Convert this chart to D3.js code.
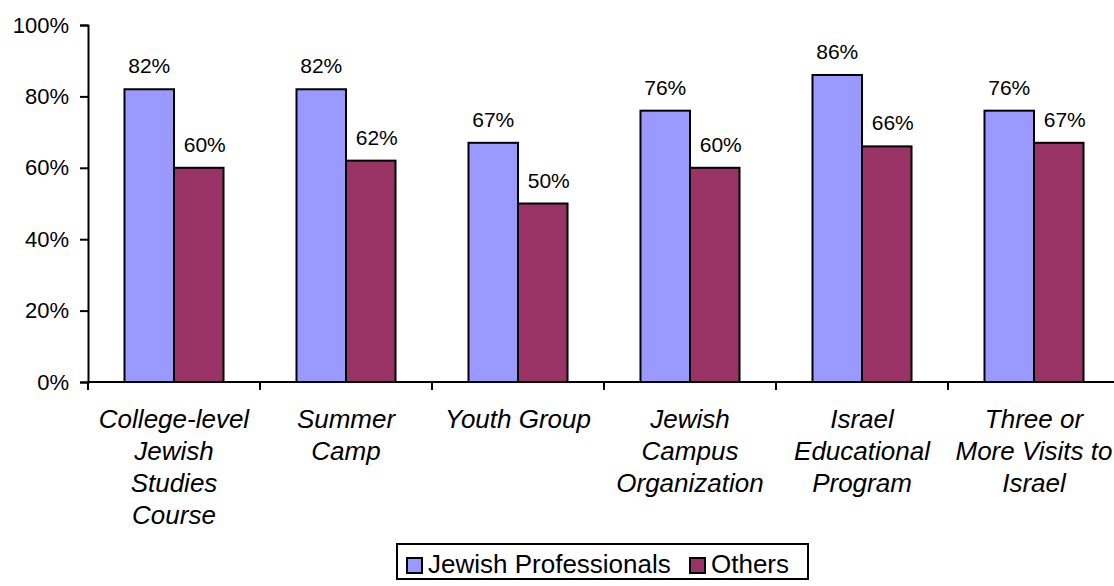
<!DOCTYPE html>
<html>
<head>
<meta charset="utf-8">
<script src="https://cdn.jsdelivr.net/npm/d3@7"></script>
<style>
  body { margin: 0; background: #fff; }
  svg { font-family: "Liberation Sans", Arial, sans-serif; }
</style>
</head>
<body>
<div class="barchart"></div>
<script>
// data
var categories = ["College-level Jewish Studies Course", "Summer Camp", "Youth Group",
                  "Jewish Campus Organization", "Israel Educational Program", "Three or More Visits to Israel"];
var categoryLines = [
  ["College-level", "Jewish", "Studies", "Course"],
  ["Summer", "Camp"],
  ["Youth Group"],
  ["Jewish", "Campus", "Organization"],
  ["Israel", "Educational", "Program"],
  ["Three or", "More Visits to", "Israel"]
];
var seriesNames = ["Jewish Professionals", "Others"];
var professionals = [0.82, 0.82, 0.67, 0.76, 0.86, 0.76];
var others = [0.60, 0.62, 0.50, 0.60, 0.66, 0.67];
var yTicks = [0, 0.2, 0.4, 0.6, 0.8, 1.0];
var colors = ["#9999ff", "#993366"];

var width = 1114, height = 586;

var svg = d3.select(".barchart")
  .append("svg")
  .attr("width", width)
  .attr("height", height);

// scales
var x0 = d3.scaleBand()
  .domain(categories)
  .range([88, 88 + 172 * categories.length])
  .paddingInner(0)
  .paddingOuter(0);

var x1 = d3.scaleBand()
  .domain(seriesNames)
  .range([0, x0.bandwidth()])
  .paddingInner(0)
  .paddingOuter(0.737);

var y = d3.scaleLinear()
  .domain([0, 1])
  .range([382, 25]);

var rows = categories.map(function(c, i) {
  return {cat: c, values: [professionals[i], others[i]]};
});

// bars
var groups = svg.selectAll(".grp")
  .data(rows)
  .enter()
  .append("g")
  .attr("class", "grp")
  .attr("transform", function(d) { return "translate(" + x0(d.cat) + ",0)"; });

groups.selectAll("rect")
  .data(function(d) { return d.values.map(function(v, j) { return {s: seriesNames[j], v: v, j: j}; }); })
  .enter()
  .append("rect")
  .attr("x", function(d) { return x1(d.s); })
  .attr("y", function(d) { return y(d.v); })
  .attr("width", x1.bandwidth())
  .attr("height", function(d) { return y(0) - y(d.v); })
  .attr("fill", function(d) { return colors[d.j]; })
  .attr("stroke", "#000")
  .attr("stroke-width", 2);

// value labels
groups.selectAll(".val")
  .data(function(d) { return d.values.map(function(v, j) { return {s: seriesNames[j], v: v, j: j}; }); })
  .enter()
  .append("text")
  .attr("class", "val")
  .attr("x", function(d) { return x1(d.s) + x1.bandwidth() / 2 + (d.j == 1 ? 6 : 0); })
  .attr("y", function(d) { return y(d.v) - 16; })
  .attr("text-anchor", "middle")
  .style("font-size", "21px")
  .text(function(d) { return Math.round(d.v * 100) + "%"; });

// y axis
var yAxis = d3.axisLeft(y)
  .tickValues(yTicks)
  .tickFormat(d3.format(".0%"))
  .tickSize(8)
  .tickPadding(11);

var yg = svg.append("g")
  .attr("transform", "translate(88,0)")
  .call(yAxis);
yg.select(".domain").attr("stroke-width", 2);
yg.selectAll(".tick line").attr("stroke-width", 2);
yg.selectAll(".tick text")
  .style("font-size", "22px")
  .style("font-family", "'Liberation Sans', Arial, sans-serif")
  .attr("fill", "#000");

// x axis line + category ticks
var xEdges = categories.map(function(c) { return x0(c); }).concat([x0.range()[1]]);
svg.append("line")
  .attr("x1", 88).attr("x2", x0.range()[1])
  .attr("y1", y(0)).attr("y2", y(0))
  .attr("stroke", "#000").attr("stroke-width", 2);
svg.selectAll(".xtick")
  .data(xEdges)
  .enter()
  .append("line")
  .attr("class", "xtick")
  .attr("x1", function(d) { return d; }).attr("x2", function(d) { return d; })
  .attr("y1", y(0)).attr("y2", y(0) + 8)
  .attr("stroke", "#000").attr("stroke-width", 2);

// category labels
var catText = svg.selectAll(".cat")
  .data(categories)
  .enter()
  .append("text")
  .attr("class", "cat")
  .attr("text-anchor", "middle")
  .style("font-size", "26px")
  .style("font-style", "italic");
catText.selectAll("tspan")
  .data(function(d, i) { return categoryLines[i].map(function(l) { return {l: l, c: d}; }); })
  .enter()
  .append("tspan")
  .attr("x", function(d) { return x0(d.c) + x0.bandwidth() / 2; })
  .attr("y", function(d, k) { return y(0) + 46 + k * 32; })
  .text(function(d) { return d.l; });

// legend
var legend = svg.append("g");
legend.append("rect")
  .attr("x", 397).attr("y", 544)
  .attr("width", 411).attr("height", 35)
  .attr("fill", "#fff")
  .attr("stroke", "#000").attr("stroke-width", 2);

var legX = [407, 690];
seriesNames.forEach(function(s, i) {
  legend.append("rect")
    .attr("x", legX[i]).attr("y", 558)
    .attr("width", 15).attr("height", 15)
    .attr("fill", colors[i])
    .attr("stroke", "#000").attr("stroke-width", 2);
  legend.append("text")
    .attr("x", legX[i] + 21).attr("y", 573)
    .style("font-size", "26px")
    .text(s);
});
</script>
</body>
</html>
